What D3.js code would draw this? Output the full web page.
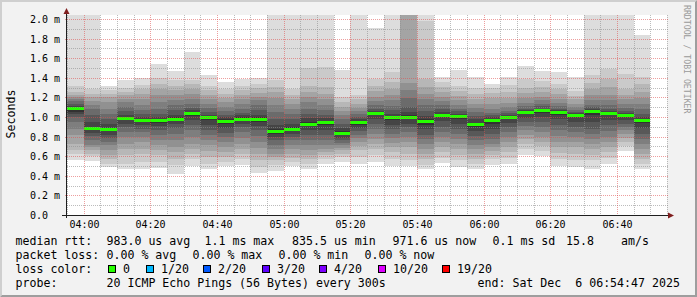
<!DOCTYPE html>
<html>
<head>
<meta charset="utf-8">
<script src="https://cdn.jsdelivr.net/npm/d3@7"></script>
<style>
  body { margin: 0; background: #f2f2f2; }
  svg { display: block; }
  text { font-family: "DejaVu Sans Mono", monospace; fill: #000; }
</style>
</head>
<body>
<svg id="chart"></svg>
<script>
// 35 five-minute steps starting 03:55, each with 20 sorted ping rtts (ms)
var startTime = new Date(2025, 11, 6, 3, 55);
var endTime = new Date(2025, 11, 6, 6, 55);

var medians = [1.088, 0.884, 0.874, 0.993, 0.973, 0.966, 0.983, 1.041, 0.997, 0.956,
               0.983, 0.976, 0.854, 0.881, 0.929, 0.949, 0.8355, 0.949, 1.041, 0.997,
               0.997, 0.956, 1.024, 1.01, 0.925, 0.966, 0.997, 1.051, 1.068, 1.051,
               1.024, 1.058, 1.044, 1.024, 0.9716];

var pings = [
  [0.558,0.626,0.66,0.728,0.813,0.88,0.949,1.0,1.034,1.051,1.092,1.109,1.136,1.16,1.18,1.204,1.228,1.255,1.316,2.2],
  [0.551,0.602,0.626,0.66,0.694,0.718,0.762,0.806,0.84,0.864,0.898,0.949,1.017,1.085,1.119,1.16,1.204,1.238,1.282,2.2],
  [0.49,0.524,0.575,0.609,0.66,0.711,0.745,0.786,0.82,0.854,0.891,0.932,0.983,1.034,1.085,1.153,1.204,1.238,1.272,1.316],
  [0.473,0.524,0.609,0.677,0.728,0.796,0.847,0.898,0.932,0.976,1.003,1.024,1.058,1.102,1.153,1.18,1.221,1.255,1.296,1.381],
  [0.466,0.541,0.626,0.677,0.745,0.796,0.847,0.881,0.922,0.956,0.983,1.0,1.034,1.068,1.119,1.187,1.238,1.282,1.33,1.398],
  [0.483,0.541,0.609,0.66,0.711,0.762,0.813,0.864,0.908,0.942,0.976,1.0,1.034,1.085,1.153,1.221,1.289,1.34,1.398,1.544],
  [0.422,0.507,0.575,0.643,0.694,0.762,0.83,0.888,0.932,0.966,0.997,1.024,1.068,1.119,1.17,1.221,1.272,1.316,1.374,1.469],
  [0.5,0.575,0.626,0.677,0.728,0.796,0.864,0.915,0.966,1.01,1.051,1.068,1.092,1.136,1.18,1.238,1.289,1.34,1.374,1.663],
  [0.466,0.524,0.592,0.65,0.711,0.762,0.813,0.864,0.915,0.966,1.007,1.024,1.051,1.092,1.136,1.18,1.228,1.272,1.316,1.432],
  [0.497,0.541,0.592,0.643,0.694,0.745,0.796,0.84,0.888,0.932,0.976,1.0,1.024,1.058,1.102,1.153,1.194,1.238,1.282,1.357],
  [0.514,0.575,0.626,0.677,0.728,0.786,0.847,0.898,0.932,0.963,0.997,1.017,1.044,1.085,1.136,1.18,1.221,1.272,1.316,1.391],
  [0.432,0.49,0.558,0.626,0.684,0.745,0.806,0.864,0.908,0.949,0.997,1.024,1.068,1.126,1.17,1.204,1.248,1.296,1.34,1.401],
  [0.449,0.507,0.558,0.592,0.626,0.677,0.718,0.762,0.796,0.83,0.874,0.915,0.983,1.051,1.119,1.194,1.255,1.306,1.374,2.2],
  [0.5,0.541,0.582,0.626,0.677,0.718,0.762,0.796,0.83,0.861,0.898,0.932,0.983,1.034,1.085,1.136,1.18,1.221,1.282,2.2],
  [0.466,0.524,0.575,0.616,0.66,0.711,0.762,0.813,0.864,0.908,0.949,0.99,1.034,1.085,1.153,1.204,1.255,1.316,1.5,2.2],
  [0.524,0.568,0.609,0.643,0.677,0.718,0.762,0.813,0.864,0.915,0.963,0.99,1.024,1.068,1.119,1.18,1.238,1.306,1.51,2.2],
  [0.541,0.592,0.626,0.66,0.684,0.711,0.738,0.762,0.786,0.813,0.854,0.888,0.932,0.976,1.017,1.058,1.102,1.153,1.204,1.483],
  [0.52,0.592,0.66,0.704,0.745,0.786,0.82,0.854,0.888,0.922,0.963,0.976,1.0,1.031,1.058,1.092,1.136,1.18,1.228,2.2],
  [0.541,0.609,0.677,0.728,0.779,0.83,0.881,0.932,0.976,1.017,1.051,1.065,1.085,1.119,1.16,1.204,1.262,1.316,1.391,1.908],
  [0.5,0.575,0.643,0.694,0.738,0.786,0.83,0.874,0.915,0.966,1.01,1.034,1.068,1.112,1.17,1.228,1.289,1.357,1.459,2.2],
  [0.5,0.558,0.626,0.694,0.745,0.796,0.847,0.898,0.932,0.976,1.017,1.051,1.102,1.194,1.272,1.35,2.15,2.2,2.25,2.3],
  [0.466,0.514,0.575,0.626,0.677,0.728,0.772,0.82,0.874,0.922,0.976,1.01,1.058,1.119,1.18,1.238,1.306,1.391,1.98,2.2],
  [0.534,0.582,0.643,0.694,0.745,0.796,0.847,0.898,0.956,1.0,1.034,1.051,1.078,1.119,1.16,1.204,1.255,1.306,1.357,1.408],
  [0.49,0.558,0.616,0.677,0.728,0.779,0.83,0.881,0.932,0.983,1.017,1.034,1.058,1.085,1.126,1.17,1.214,1.262,1.316,1.483],
  [0.466,0.524,0.575,0.626,0.677,0.718,0.762,0.806,0.854,0.898,0.942,0.976,1.01,1.051,1.092,1.136,1.18,1.238,1.296,1.408],
  [0.514,0.568,0.609,0.65,0.694,0.728,0.779,0.83,0.881,0.932,0.983,0.997,1.017,1.044,1.085,1.136,1.194,1.248,1.296,1.34],
  [0.524,0.582,0.643,0.694,0.745,0.796,0.847,0.898,0.942,0.976,1.007,1.017,1.037,1.065,1.102,1.146,1.194,1.255,1.323,1.408],
  [0.609,0.677,0.728,0.779,0.82,0.864,0.908,0.949,0.99,1.031,1.058,1.068,1.085,1.109,1.146,1.194,1.248,1.296,1.391,1.52],
  [0.602,0.65,0.704,0.745,0.796,0.847,0.898,0.949,1.0,1.044,1.075,1.085,1.109,1.136,1.17,1.204,1.255,1.306,1.364,1.466],
  [0.5,0.568,0.636,0.694,0.745,0.806,0.864,0.922,0.976,1.024,1.058,1.068,1.085,1.112,1.146,1.187,1.238,1.289,1.34,1.459],
  [0.49,0.558,0.626,0.694,0.745,0.796,0.847,0.898,0.949,1.0,1.031,1.037,1.051,1.068,1.102,1.136,1.18,1.214,1.262,1.408],
  [0.466,0.558,0.616,0.67,0.728,0.779,0.83,0.881,0.949,1.017,1.068,1.078,1.099,1.126,1.17,1.221,1.282,1.35,1.425,2.2],
  [0.524,0.582,0.643,0.694,0.745,0.796,0.854,0.915,0.966,1.017,1.051,1.065,1.085,1.119,1.17,1.228,1.306,1.391,1.493,2.2],
  [0.65,0.704,0.745,0.786,0.83,0.864,0.898,0.932,0.966,1.0,1.031,1.041,1.058,1.092,1.136,1.18,1.228,1.282,1.442,2.2],
  [0.473,0.524,0.575,0.626,0.677,0.728,0.779,0.83,0.888,0.942,0.983,1.0,1.034,1.078,1.136,1.194,1.255,1.34,1.408,1.84]
];

// outer pair (min/max) lightest, inner pair darkest
var smokeColors = ["#dddddd","#cacaca","#b7b7b7","#a4a4a4","#919191","#7e7e7e","#6b6b6b","#585858","#454545","#323232"];

var yTicks = [0, 0.2, 0.4, 0.6, 0.8, 1.0, 1.2, 1.4, 1.6, 1.8, 2.0];
var yTickLabels = ["0.0", "0.2 m", "0.4 m", "0.6 m", "0.8 m", "1.0 m", "1.2 m", "1.4 m", "1.6 m", "1.8 m", "2.0 m"];

var lossLabels = ["0", "1/20", "2/20", "3/20", "4/20", "10/20", "19/20"];
var lossColors = ["#26ff00", "#00b8ff", "#0059ff", "#5e00ff", "#7e00ff", "#dd00ff", "#ff0000"];

var rttLegend = ["median rtt:", "983.0 us avg", "1.1 ms max", "835.5 us min", "971.6 us now", "0.1 ms sd", "15.8", "am/s"];
var lossLegend = ["packet loss:", "0.00 % avg", "0.00 % max", "0.00 % min", "0.00 % now"];
var probeLegend = ["probe:", "20 ICMP Echo Pings (56 Bytes) every 300s", "end: Sat Dec  6 06:54:47 2025"];

var svgWidth = 697, svgHeight = 297;
var plot = { left: 67, right: 667, top: 15, bottom: 215 };
var yMax = 2.04;

var svg = d3.select('#chart')
  .attr("width", svgWidth)
  .attr("height", svgHeight);

// background + bevel
svg.append("rect").attr("width", svgWidth).attr("height", svgHeight).attr("fill", "#f2f2f2");
svg.append("path")
  .attr("d", "M0,0H697L695,2H2V295L0,297Z")
  .attr("fill", "#cfcfcf");
svg.append("path")
  .attr("d", "M697,0V297H0L2,295H695V2Z")
  .attr("fill", "#9e9e9e");

var x = d3.scaleTime().domain([startTime, endTime]).range([plot.left, plot.right]);
var y = d3.scaleLinear().domain([0, yMax]).range([plot.bottom, plot.top]);

svg.append("rect")
  .attr("x", plot.left).attr("y", plot.top)
  .attr("width", plot.right - plot.left).attr("height", plot.bottom - plot.top)
  .attr("fill", "#fff");

svg.append("clipPath").attr("id", "clip")
  .append("rect")
  .attr("x", plot.left).attr("y", plot.top)
  .attr("width", plot.right - plot.left).attr("height", plot.bottom - plot.top);

var g = svg.append("g").attr("clip-path", "url(#clip)");

//draw the smoke, one column per 5 minute step
pings.forEach(function(p, i) {
  var t0 = d3.timeMinute.offset(startTime, 5 * i);
  var t1 = d3.timeMinute.offset(startTime, 5 * (i + 1));
  var x0 = Math.round(x(t0)), x1 = Math.round(x(t1));
  var col = g.append("g").attr("shape-rendering", "crispEdges");
  smokeColors.forEach(function(c, b) {
    var top = Math.round(y(Math.min(p[19 - b], yMax + 0.1)));
    var bot = Math.round(y(p[b]));
    col.append("rect")
      .attr("x", x0).attr("width", x1 - x0)
      .attr("y", top).attr("height", bot - top)
      .attr("fill", c);
  });
  col.append("rect")
    .attr("x", x0).attr("width", x1 - x0)
    .attr("y", Math.round(y(medians[i])) - 1).attr("height", 3)
    .attr("fill", lossColors[0]);
});

// grid on top of the smoke
var minorColor = "rgba(143,143,143,0.6)";
var majorColor = "rgba(222,79,79,0.55)";
var grid = svg.append("g");

y.ticks(20).filter(function(v) { return v > 0 && yTicks.indexOf(+v.toFixed(1)) < 0; })
  .forEach(function(v) {
    var yy = Math.round(y(v)) + 0.5;
    grid.append("line").attr("x1", plot.left).attr("x2", plot.right + 1)
      .attr("y1", yy).attr("y2", yy)
      .attr("stroke", minorColor).attr("stroke-dasharray", "1,1");
  });

x.ticks(d3.timeMinute.every(5)).forEach(function(t) {
  if (t.getMinutes() % 20 === 0) return;
  var xx = Math.round(x(t)) + 0.5;
  grid.append("line").attr("x1", xx).attr("x2", xx)
    .attr("y1", plot.top).attr("y2", plot.bottom)
    .attr("stroke", minorColor).attr("stroke-dasharray", "1,1");
});

yTicks.slice(1).forEach(function(v) {
  var yy = Math.round(y(v)) + 0.5;
  grid.append("line").attr("x1", plot.left - 2).attr("x2", plot.right + 2)
    .attr("y1", yy).attr("y2", yy)
    .attr("stroke", majorColor).attr("stroke-dasharray", "1,1");
});

x.ticks(d3.timeMinute.every(20)).forEach(function(t) {
  var xx = Math.round(x(t)) + 0.5;
  grid.append("line").attr("x1", xx).attr("x2", xx)
    .attr("y1", plot.top).attr("y2", plot.bottom + 2)
    .attr("stroke", majorColor).attr("stroke-dasharray", "1,1");
});

// axes
svg.append("line")
  .attr("x1", plot.left - 5).attr("x2", plot.right + 4)
  .attr("y1", plot.bottom + 0.5).attr("y2", plot.bottom + 0.5)
  .attr("stroke", "#1f1f1f");
svg.append("line")
  .attr("x1", plot.left - 0.5).attr("x2", plot.left - 0.5)
  .attr("y1", plot.bottom + 3).attr("y2", plot.top - 4)
  .attr("stroke", "#1f1f1f");
svg.append("path")
  .attr("d", "M" + (plot.right + 7) + "," + (plot.bottom + 0.5) + "L" + (plot.right + 1) + "," + (plot.bottom - 2.5) +
             "L" + (plot.right + 1) + "," + (plot.bottom + 3.5) + "Z")
  .attr("fill", "#801f1f");
svg.append("path")
  .attr("d", "M" + (plot.left - 0.5) + "," + (plot.top - 7) + "L" + (plot.left - 3.5) + "," + (plot.top - 1) +
             "L" + (plot.left + 2.5) + "," + (plot.top - 1) + "Z")
  .attr("fill", "#801f1f");

// tick labels
x.ticks(d3.timeMinute.every(20)).forEach(function(t) {
  svg.append("text")
    .attr("x", Math.round(x(t)) + 0.5).attr("y", 227.5)
    .attr("text-anchor", "middle")
    .attr("font-size", "10px")
    .text(d3.timeFormat("%H:%M")(t));
});

yTicks.forEach(function(v, i) {
  svg.append("text")
    .attr("x", 30).attr("y", Math.round(y(v)) + 4)
    .attr("font-size", "10px")
    .text(yTickLabels[i]);
});

svg.append("text")
  .attr("transform", "translate(15,114) rotate(-90)")
  .attr("text-anchor", "middle")
  .attr("font-size", "11.6px")
  .text("Seconds");

svg.append("text")
  .attr("transform", "translate(684,5) rotate(90)")
  .attr("font-size", "8.2px")
  .style("fill", "#9a9a9a")
  .text("RRDTOOL / TOBI OETIKER");

// legend
function legendRow(items, xs, baseline) {
  items.forEach(function(s, i) {
    svg.append("text")
      .attr("x", xs[i]).attr("y", baseline)
      .attr("font-size", "11.6px")
      .attr("xml:space", "preserve")
      .style("white-space", "pre")
      .text(s);
  });
}

legendRow(rttLegend, [15.5, 106.5, 204.5, 292, 392.5, 492.5, 566, 621], 245);
legendRow(lossLegend, [15.5, 106.5, 192.5, 278.5, 364.5], 259);
legendRow(["loss color:"], [15.5], 273);

var boxX = [108, 146, 203, 262, 319, 378, 442];
lossColors.forEach(function(c, i) {
  svg.append("rect")
    .attr("x", boxX[i] + 0.5).attr("y", 265.5)
    .attr("width", 7).attr("height", 7)
    .attr("fill", c).attr("stroke", "#000");
  svg.append("text")
    .attr("x", boxX[i] + 15).attr("y", 273)
    .attr("font-size", "11.6px")
    .text(lossLabels[i]);
});

legendRow(probeLegend, [15.5, 106.5, 477.5], 287);
</script>
</body>
</html>
